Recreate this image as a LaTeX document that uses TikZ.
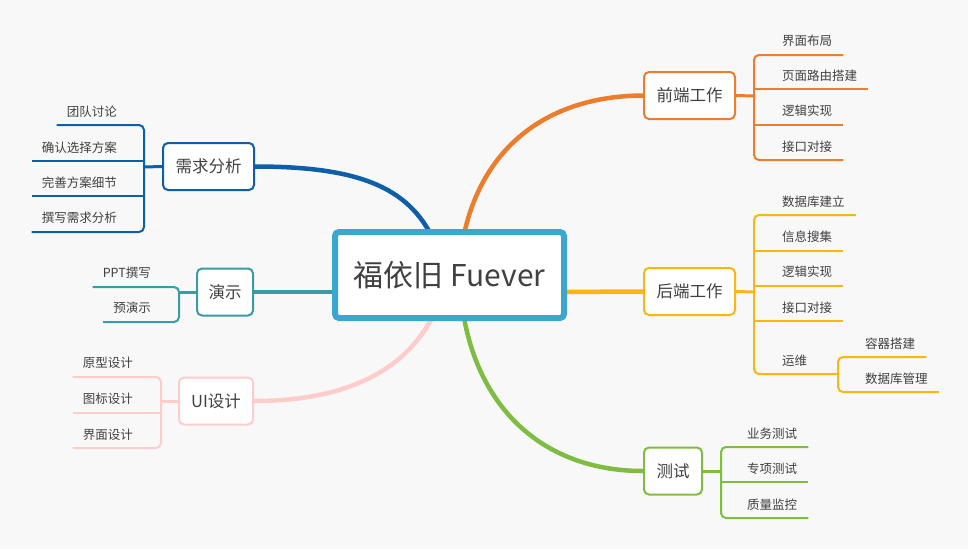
\documentclass[tikz,border=0pt]{standalone}
\usepackage{fontspec}
\setmainfont{Noto Sans CJK SC}
\usetikzlibrary{calc,backgrounds}
\definecolor{bgc}{HTML}{F8F8F8}
\definecolor{txt}{HTML}{404040}
\definecolor{cc}{HTML}{3AA8CE}
\definecolor{cblue}{HTML}{0F5EA8}
\definecolor{cteal}{HTML}{3A9BA5}
\definecolor{cpink}{HTML}{FFCCCC}
\definecolor{corange}{HTML}{EB7D2C}
\definecolor{cyellow}{HTML}{FBB614}
\definecolor{cgreen}{HTML}{7FBD42}
\begin{document}
\begin{tikzpicture}[x=1pt,y=-1pt,
  centerbox/.style={draw=cc, line width=6pt, fill=white, rounded corners=4pt,
    minimum width=229pt, minimum height=86pt, inner sep=0pt, text=txt,
    font=\fontsize{30}{34}\selectfont},
  branchbox/.style={draw=#1, line width=2pt, fill=white, rounded corners=5pt,
    minimum height=47pt, inner xsep=4pt, text=txt,
    font=\fontsize{16.5}{20}\selectfont},
  leaf/.style={inner sep=0pt, text=txt, font=\fontsize{12.5}{15}\selectfont},
  mainline/.style={draw=#1, line width=4.5pt, line cap=round},
  stubline/.style={draw=#1, line width=3pt},
  leafline/.style={draw=#1, line width=2pt, rounded corners=5pt},
]
\useasboundingbox (0,0) rectangle (968,549);

% nodes
\node[centerbox] (c) at (449.5,275) {福依旧 Fuever};
\node[branchbox=cblue, minimum width=91pt] (xq) at (208.5,166.5) {需求分析};
\node[branchbox=cteal, minimum width=56pt] (ys) at (225,292) {演示};
\node[branchbox=cpink, minimum width=74pt] (ui) at (216,401) {UI设计};
\node[branchbox=corange, minimum width=91pt] (fe) at (689.5,95.5) {前端工作};
\node[branchbox=cyellow, minimum width=91pt] (be) at (689.5,291.5) {后端工作};
\node[branchbox=cgreen, minimum width=58pt] (te) at (673,471) {测试};

% leaves left
\node[leaf, anchor=east] (q1) at (117,112) {团队讨论};
\node[leaf, anchor=east] (q2) at (117,148) {确认选择方案};
\node[leaf, anchor=east] (q3) at (117,183) {完善方案细节};
\node[leaf, anchor=east] (q4) at (117,218) {撰写需求分析};
\node[leaf, anchor=east] (y1) at (151,273) {PPT撰写};
\node[leaf, anchor=east] (y2) at (151,308) {预演示};
\node[leaf, anchor=east] (u1) at (133,363) {原型设计};
\node[leaf, anchor=east] (u2) at (133,399) {图标设计};
\node[leaf, anchor=east] (u3) at (133,435) {界面设计};
% leaves right
\node[leaf, anchor=west] (f1) at (782,41) {界面布局};
\node[leaf, anchor=west] (f2) at (782,76) {页面路由搭建};
\node[leaf, anchor=west] (f3) at (782,111) {逻辑实现};
\node[leaf, anchor=west] (f4) at (782,147) {接口对接};
\node[leaf, anchor=west] (b1) at (782,202) {数据库建立};
\node[leaf, anchor=west] (b2) at (782,237) {信息搜集};
\node[leaf, anchor=west] (b3) at (782,272) {逻辑实现};
\node[leaf, anchor=west] (b4) at (782,308) {接口对接};
\node[leaf, anchor=west] (b5) at (782,361) {运维};
\node[leaf, anchor=west] (s1) at (865,344) {容器搭建};
\node[leaf, anchor=west] (s2) at (865,379) {数据库管理};
\node[leaf, anchor=west] (t1) at (747,434) {业务测试};
\node[leaf, anchor=west] (t2) at (747,469) {专项测试};
\node[leaf, anchor=west] (t3) at (747,505) {质量监控};

\begin{scope}[on background layer]
\fill[bgc] (0,0) rectangle (968,549);
% main connectors
\draw[mainline=cblue] (xq.east) .. controls (365,166.5) and (412,190) .. (436,245);
\draw[mainline=cteal] (ys.east) -- (345,292);
\draw[mainline=cpink] (ui.east) .. controls (350,401) and (412,368) .. (438,305);
\draw[mainline=corange] (fe.west) .. controls (545,96) and (478,150) .. (462,245);
\draw[mainline=cyellow] (555,292) -- (be.west);
\draw[mainline=cgreen] (te.west) .. controls (545,471) and (476,410) .. (462,305);
\end{scope}

% stubs
\draw[stubline=cblue] (xq.west) -- (144,167);
\draw[stubline=cteal] (ys.west) -- (179,292);
\draw[stubline=cpink] (ui.west) -- (161,401);
\draw[stubline=corange] (fe.east) -- (754,96);
\draw[stubline=cyellow] (be.east) -- (754,292);
\draw[stubline=cgreen] (te.east) -- (721,471);

% brackets left
\draw[leafline=cblue] ($(q1.west|-0,125)+(-10,0)$) -- (144,125) -- (144,232) -- ($(q4.west|-0,232)+(-10,0)$);
\draw[leafline=cblue] (144,161) -- ($(q2.west|-0,161)+(-10,0)$);
\draw[leafline=cblue] (144,196) -- ($(q3.west|-0,196)+(-10,0)$);
\draw[leafline=cteal] ($(y1.west|-0,287)+(-10,0)$) -- (179,287) -- (179,322) -- ($(y2.west|-0,322)+(-10,0)$);
\draw[leafline=cpink] ($(u1.west|-0,377)+(-10,0)$) -- (161,377) -- (161,448) -- ($(u3.west|-0,448)+(-10,0)$);
\draw[leafline=cpink] (161,413) -- ($(u2.west|-0,413)+(-10,0)$);

% brackets right
\draw[leafline=corange] ($(f1.east|-0,55)+(11,0)$) -- (754,55) -- (754,160) -- ($(f4.east|-0,160)+(11,0)$);
\draw[leafline=corange] (754,89) -- ($(f2.east|-0,89)+(11,0)$);
\draw[leafline=corange] (754,125) -- ($(f3.east|-0,125)+(11,0)$);

\draw[leafline=cyellow] ($(b1.east|-0,215)+(11,0)$) -- (754,215) -- (754,374) -- (838,374);
\draw[leafline=cyellow] (754,251) -- ($(b2.east|-0,251)+(11,0)$);
\draw[leafline=cyellow] (754,286) -- ($(b3.east|-0,286)+(11,0)$);
\draw[leafline=cyellow] (754,321) -- ($(b4.east|-0,321)+(11,0)$);
\draw[leafline=cyellow] ($(s1.east|-0,357)+(11,0)$) -- (838,357) -- (838,392) -- ($(s2.east|-0,392)+(11,0)$);

\draw[leafline=cgreen] ($(t1.east|-0,447)+(11,0)$) -- (721,447) -- (721,518) -- ($(t3.east|-0,518)+(11,0)$);
\draw[leafline=cgreen] (721,482) -- ($(t2.east|-0,482)+(11,0)$);
\end{tikzpicture}
\end{document}
